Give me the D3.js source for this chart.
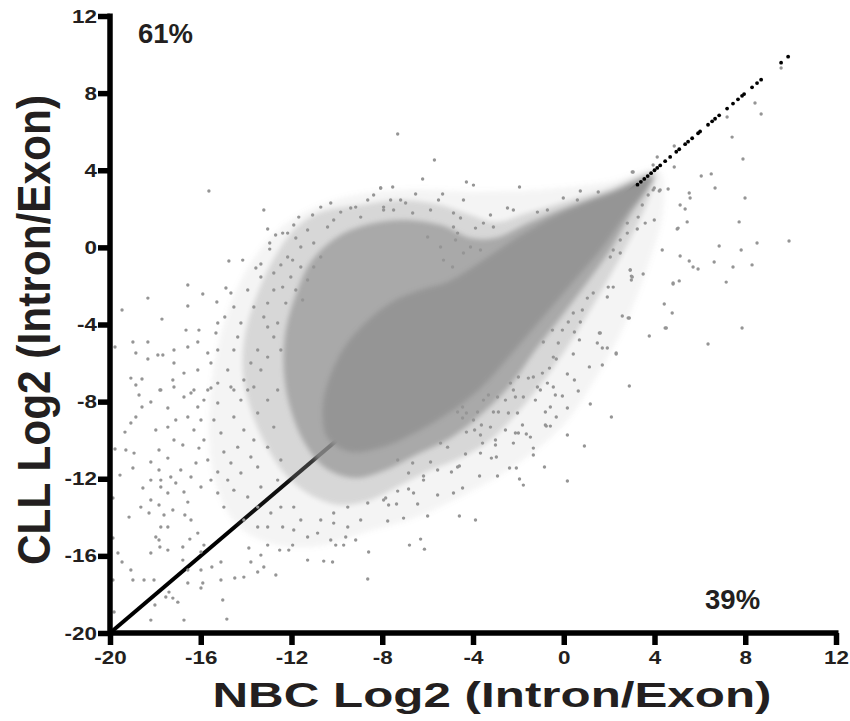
<!DOCTYPE html>
<html>
<head>
<meta charset="utf-8">
<script src="https://cdn.jsdelivr.net/npm/d3@7"></script>
<style>
  body { margin: 0; background: #fff; }
  svg { display: block; }
</style>
</head>
<body>
<div id="chart"></div>
<script>
// axis ticks
const xTicks = [-20, -16, -12, -8, -4, 0, 4, 8, 12];
const yTicks = [-20, -16, -12, -8, -4, 0, 4, 8, 12];

// black points lying on y = x (dense run, then single dots)
const diagonalRange = [-20, 3.2];
const diagonalDots = [3.25, 3.4, 3.55, 3.7, 3.85, 4.0, 4.12, 4.25, 4.47, 4.69, 4.96, 5.09, 5.35, 5.48, 5.66,
  5.92, 6.01, 6.36, 6.54, 6.67, 6.85, 7.2, 7.46, 7.68, 7.86, 7.95, 8.3, 8.52, 8.7, 9.58, 9.89];

// density outlines of the grey cloud (halo = thin, outer = loose, inner = dense, core = solid)
const haloOutline = [[4.2,4.0],[2.0,3.4],[-1.0,3.0],[-4.0,2.9],[-7.0,3.0],[-10.0,2.5],[-12.3,1.2],[-13.9,-1.0],
  [-15.0,-4.0],[-15.6,-8.0],[-15.4,-12.0],[-14.4,-14.4],[-12.8,-15.4],[-10.8,-15.5],[-8.8,-14.8],[-6.5,-14.0],
  [-4.0,-12.6],[-2.0,-11.2],[0.0,-9.2],[1.4,-6.8],[2.7,-4.0],[3.7,-1.0],[4.4,2.0]];
const outerOutline = [[4.03,3.91],[2.05,3.08],[0.29,2.46],[-1.47,1.83],[-3.01,1.31],[-4.11,1.68],[-5.43,2.2],
  [-7.19,2.46],[-8.95,2.2],[-10.71,1.83],[-11.81,1.0],[-12.69,-0.4],[-13.44,-2.21],[-14.01,-4.29],[-14.15,-6.36],
  [-13.79,-8.44],[-13.13,-10.25],[-12.25,-11.81],[-11.15,-12.85],[-9.83,-13.36],[-8.51,-13.1],[-7.19,-12.33],
  [-5.87,-11.55],[-4.55,-10.93],[-3.23,-9.99],[-2.13,-8.7],[-1.03,-7.14],[0.07,-5.32],[1.17,-3.25],[2.14,-1.28],
  [3.02,0.64],[3.81,2.72]];
const innerOutline = [[3.9,3.7],[2.05,2.87],[0.29,2.14],[-1.47,1.31],[-3.01,0.49],[-4.11,0.49],[-5.43,1.16],
  [-7.19,1.42],[-8.73,1.16],[-10.05,0.49],[-11.15,-0.76],[-11.81,-2.47],[-12.25,-4.29],[-12.34,-6.36],
  [-12.03,-8.44],[-11.37,-10.25],[-10.49,-11.45],[-9.17,-11.96],[-7.85,-11.55],[-6.53,-10.77],[-4.99,-9.89],
  [-3.67,-8.7],[-2.35,-7.14],[-1.25,-5.32],[-0.15,-3.66],[0.95,-1.95],[2.05,-0.14],[2.93,1.68],[3.72,3.08]];
const coreOutline = [[3.9,3.6],[2.27,2.87],[0.73,2.2],[-0.72,1.42],[-2.22,0.38],[-3.67,-0.76],[-5.12,-1.8],
  [-6.31,-2.21],[-7.41,-2.73],[-8.51,-3.66],[-9.61,-5.07],[-10.36,-6.88],[-10.63,-8.44],[-10.4,-9.9],
  [-9.4,-10.6],[-7.85,-10.3],[-6.53,-9.6],[-5.21,-8.7],[-3.67,-7.3],[-2.35,-5.58],[-1.03,-3.77],[0.29,-1.95],
  [1.61,-0.14],[2.71,1.68],[3.59,2.97]];

// individually visible grey points (NBC, CLL)
const scatterPoints = [
  [9.58,9.3],[8.43,7.49],[8.7,6.92],[7.2,6.76],[7.42,5.72],[7.9,4.58],[4.87,5.26],[4.12,4.69],[4.87,4.17],[3.02,3.91],
  [6.06,3.7],[6.5,3.81],[6.67,3.08],[4.6,3.03],[4.21,2.92],[5.53,2.82],[5.57,2.56],[7.99,2.56],[3.94,4.27],
  [3.99,3.08],[5.13,2.2],[5.35,1.99],[5.44,1.32],[5.0,0.95],[3.99,1.42],[3.59,1.26],[3.24,0.95],[7.73,1.32],[8.52,0.23],
  [9.93,0.33],[6.85,0.07],[7.82,-0.14],[4.34,-0.14],[5.13,-0.45],[5.53,-0.71],[5.7,-1.02],[5.92,-1.12],[6.63,-0.76],
  [7.46,-1.02],[8.3,-0.91],[7.16,-1.8],[5.09,-1.74],[4.82,-1.9],[3.5,-1.38],[2.93,-1.17],[2.98,-1.49],[2.98,-1.69],
  [1.96,-2.06],[4.43,-2.94],[4.78,-3.4],[4.52,-4.18],[7.86,-4.18],[2.58,-3.56],[2.89,-3.66],[3.77,-4.6],[6.36,-5.01],
  [1.7,-5.22],[1.92,-5.22],[2.31,-5.48],[1.7,-6.1],
  [2.89,-7.19],[2.1,-8.8],[0.91,-10.3],[0.16,-12.12],[1.17,-8.12],[1.13,-6.2],[2.31,-5.53],[1.48,-4.96],[1.57,-4.44],
  [0.42,-5.53],[0.47,-4.39],[0.69,-4.8],[0.16,-6.57],[0.47,-6.88],[0.64,-7.45],[0.16,-8.33],[0.16,-9.73],[-0.33,-8.8],
  [-0.77,-9.27],[-0.59,-9.27],[-0.85,-11.39],[-1.34,-10.41],[-1.34,-10.77],[-1.78,-12.33],[-1.95,-12.01],[-2.09,-11.44],
  [-2.39,-11.44],[-2.92,-11.86],[-3.71,-11.86],[-3.89,-14.14],[-4.6,-13.93],[-6.0,-13.93],[-7.06,-14.04],[-7.76,-14.19],
  [-6.31,-15.13],[-6.8,-15.44],[-6.14,-15.65],[-6.44,-13.31],[-7.37,-13.31],[-5.56,-12.84],[-4.86,-12.74],[-4.46,-12.48],
  [-4.95,-11.65],[-4.68,-11.39],[-5.56,-11.55],[-6.18,-11.86],[-6.62,-12.74],[-6.84,-12.53],[-7.32,-12.64],[-3.19,-10.93],
  [-2.97,-10.87],[-3.01,-10.25],[-3.67,-10.67],[-4.33,-10.72],[-4.6,-11.34],[-2.22,-10.15],[-2.0,-9.63],[-1.65,-9.68],
  [-1.47,-9.84],[-2.57,-9.47],[-3.01,-9.99],[-3.58,-10.15],[-3.67,-9.73],[-3.93,-9.47],[-4.29,-9.58],[-4.46,-8.85],
  [-3.98,-8.95],[-3.63,-9.21],[-3.23,-9.32],[-2.88,-8.54],[-2.44,-8.59],[-3.1,-8.54],[-2.04,-8.59],[-1.82,-9.21],
  [-2.13,-9.63],[-0.81,-9.21],[-0.59,-8.28],[-0.81,-8.54],[-0.37,-7.66],[-0.06,-7.71],[-0.46,-7.24],[-1.03,-7.4],
  [-0.72,-7.04],[-1.25,-7.92],[-0.46,-5.69],[-0.33,-5.79],[-0.9,-4.91],[-0.24,-4.96],[-1.34,-6.72],[-1.56,-6.78],
  [-0.94,-6.52],[-0.63,-6.26],[-1.16,-7.24],[-2.35,-7.04],[-2.22,-7.4],[-2.0,-6.72],[-1.78,-7.76],[-2.13,-7.76],
  [-2.57,-7.92],[-2.92,-7.76],[-3.32,-7.66],[-3.54,-7.92],[-3.8,-8.54],[-4.29,-8.59],[-4.68,-8.54],[-4.46,-8.28],
  [-5.12,-10.36],[-5.43,-10.15],[-5.87,-11.13],[-6.18,-12.07],[-6.84,-11.7],[-6.66,-11.18],[-7.32,-11.03],[-7.72,-13.36],
  [-7.85,-13.0],
  [-19.87,-13.0],[-19.87,-15.07],[-19.87,-17.25],[-19.82,-18.91],[-19.78,-10.46],[-19.56,-11.81],[-19.34,-9.58],
  [-19.08,-9.11],[-18.86,-8.8],[-18.59,-8.28],[-18.72,-7.66],[-19.3,-10.51],[-18.94,-10.67],[-18.99,-11.44],
  [-19.16,-13.99],[-19.65,-15.85],[-19.47,-16.32],[-19.08,-16.73],[-18.99,-17.25],[-18.55,-12.48],[-18.64,-13.47],
  [-18.28,-13.78],[-18.5,-17.25],[-18.2,-15.85],[-18.06,-17.25],[-18.2,-19.33],[-17.84,-15.18],[-17.8,-15.54],
  [-18.02,-18.55],[-17.54,-18.13],[-17.4,-17.88],[-17.23,-18.19],[-17.01,-18.4],[-16.74,-19.33],[-16.57,-17.41],
  [-16.57,-16.73],[-16.79,-16.22],[-17.45,-15.7],[-17.98,-15.02],[-17.76,-14.5],[-17.45,-14.5],[-17.62,-13.88],
  [-17.23,-13.62],[-17.84,-13.36],[-18.2,-13.1],[-18.2,-12.07],[-17.76,-12.43],[-17.76,-12.07],[-17.45,-12.74],
  [-17.1,-12.22],[-16.74,-12.69],[-16.57,-13.21],[-16.7,-13.88],[-16.43,-14.14],[-16.13,-14.82],[-16.48,-15.13],
  [-16.79,-15.54],[-15.99,-15.8],[-15.86,-15.44],[-15.99,-16.73],[-15.91,-17.41],[-15.99,-17.67],[-15.51,-16.58],
  [-15.11,-16.32],[-15.11,-17.25],[-15.03,-18.29],[-14.85,-19.28],[-14.5,-17.15],[-14.1,-17.1],[-13.79,-16.32],
  [-13.49,-16.84],[-13.22,-16.58],[-12.69,-16.99],[-13.88,-15.59],[-13.35,-15.96],[-13.05,-15.44],[-12.52,-15.7],
  [-12.12,-15.7],[-11.95,-15.44],[-11.29,-16.22],[-10.58,-16.27],[-10.19,-16.32],[-9.7,-15.44],[-9.17,-15.18],
  [-8.6,-15.8],[-8.64,-17.2],[-10.05,-15.44],[-10.27,-15.18],[-9.61,-15.02],[-8.95,-14.14],[-9.52,-14.5],
  [-10.14,-14.3],[-10.85,-14.82],[-11.29,-15.02],
  [-17.76,-7.4],[-18.2,-8.02],[-17.18,-7.24],[-16.74,-7.76],[-17.45,-8.33],[-17.1,-8.95],[-16.57,-8.8],[-17.98,-9.47],
  [-17.45,-9.32],[-17.18,-9.99],[-16.79,-10.25],[-17.84,-10.51],[-18.2,-11.13],[-17.45,-10.93],[-17.84,-11.55],
  [-16.88,-11.55],[-17.32,-11.91],[-16.21,-11.18],[-16.43,-11.91],[-15.99,-12.43],[-15.55,-12.07],[-15.25,-11.65],
  [-15.69,-11.03],[-16.08,-10.41],[-15.86,-9.99],[-16.3,-9.47],[-15.99,-8.95],[-16.13,-8.28],[-15.86,-7.92],
  [-16.43,-7.55],[-15.55,-7.29],[-15.25,-8.07],[-15.42,-8.95],[-15.11,-9.63],[-14.98,-10.61],[-14.67,-11.18],
  [-14.81,-12.07],[-15.25,-12.74],[-14.98,-13.47],[-14.54,-12.59],[-14.23,-11.7],[-14.37,-10.36],[-14.1,-9.47],
  [-14.54,-8.8],[-14.23,-7.92],[-13.93,-7.4],[-14.67,-7.24],[-13.49,-8.59],[-13.66,-9.99],[-13.79,-10.87],
  [-13.49,-11.39],[-13.93,-12.95],[-14.1,-14.14],[-13.49,-14.5],[-13.05,-14.5],[-12.91,-13.78],[-13.49,-13.47],
  [-13.35,-12.43],[-13.05,-10.36],[-12.78,-9.32],[-13.05,-7.92],[-12.61,-7.4],[-12.47,-11.03],[-12.61,-12.07],
  [-12.47,-13.47],[-12.39,-14.5],[-11.9,-14.66],[-11.59,-14.14],[-11.9,-13.47],[-10.71,-14.14],[-10.14,-13.78],
  [-9.52,-13.47],[-8.64,-13.26],[-7.94,-13.1],
  [-7.32,5.88],[-5.7,4.53],[-6.22,3.55],[-4.29,3.39],[-3.98,3.23],[-1.95,3.13],[0.73,2.92],[1.52,2.87],[3.06,3.91],
  [-8.07,3.08],[-7.54,3.13],[-6.53,2.77],[-5.34,2.77],[-4.42,2.46],[-5.52,2.46],[-4.86,1.78],[-4.55,1.52],[-3.23,1.68],
  [-2.48,2.04],[-2.22,1.94],[-1.16,1.83],[-0.72,1.94],[-0.02,2.56],[0.6,2.46],[-3.89,1.0],[-3.54,1.26],[-3.1,1.06],
  [-4.68,0.74],[-4.11,0.02],[-3.67,-0.14],[-4.42,-0.29],[-4.77,0.38],[-4.86,1.06],[-6.0,0.54],[-5.43,0.02],
  [-5.87,1.94],[-6.97,2.3],[-6.66,1.78],[-7.5,1.94],[-7.19,2.46],[-7.94,2.09],[-5.3,-0.66],[-4.9,-1.02],
  [3.94,2.98],[4.25,2.98],[3.72,2.72],[3.46,2.2],[3.28,1.57],[2.8,1.26],[2.8,0.74],[5.04,1.0],[2.49,0.38],
  [2.18,-0.14],[2.05,-0.5],[2.49,-0.29],[2.93,-1.17],[3.02,-1.54],[4.82,-1.85],[4.47,-4.18],[2.84,-3.66],
  [1.92,-2.57],[1.3,-2.37],[1.04,-2.63],[0.82,-3.25],[1.61,-4.44],[0.2,-3.87],[-0.06,-4.29],[-0.5,-4.29],
  [0.73,-3.87],[0.42,-3.4],[2.18,-2.06],
  [-15.64,2.92],[-13.22,1.94],[-13.05,0.95],[-12.39,0.74],[-12.7,0.64],[-14.15,-0.66],[-14.76,-0.71],[-16.57,-1.95],
  [-18.33,-2.63],[-19.47,-3.25],[-17.71,-3.72],[-15.91,-2.42],[-16.57,-3.04],[-15.29,-2.83],[-14.89,-2.11],
  [-14.67,-2.37],[-13.57,-1.07],[-13.35,-0.86],[-12.96,0.23],[-12.96,-0.09],[-18.99,-4.91],[-18.33,-4.91],
  [-19.78,-5.17],[-18.86,-5.48],[-18.33,-5.79],[-17.89,-5.58],[-17.67,-5.58],[-17.18,-5.32],[-16.65,-4.29],
  [-16.08,-4.29],[-16.13,-4.91],[-16.57,-5.17],[-19.08,-6.78],[-18.59,-6.83],[-18.86,-7.14],[-17.8,-7.4],
  [-17.18,-6.0],[-17.23,-6.88],[-16.74,-6.52],[-16.13,-6.36],[-15.69,-5.48],[-15.25,-5.32],[-15.33,-4.44],
  [-15.25,-3.92],[-14.94,-3.61],[-14.54,-3.09],[-14.23,-3.92],[-14.37,-4.65],[-14.54,-5.32],[-13.66,-3.09],
  [-13.93,-2.21],[-13.35,-1.54],
  [-8.38,2.72],[-8.07,3.08],[-10.27,2.3],[-10.71,2.09],[-11.68,1.57],[-11.07,1.68],[-9.83,1.83],[-9.39,2.04],
  [-9.17,2.09],[-8.64,2.46],[-7.94,1.94],[-7.63,2.46],[-8.95,1.57],[-10.14,1.42],[-10.41,1.06],[-11.29,0.9],
  [-11.9,1.16],[-12.17,0.74],[-11.81,0.49],[-11.59,0.02],[-11.02,0.23],[-12.17,-0.5],[-11.95,-0.66],[-12.47,-0.91],
  [-12.78,-1.33],[-12.03,-1.54],[-12.39,-2.06],[-12.78,-2.21],[-13.05,-2.89],[-13.22,-3.61],[-12.25,-2.89],
  [-11.51,-2.73],[-11.81,-2.21],[-11.29,-1.69],[-11.59,-1.02],[-10.71,-0.5],[-11.02,-1.02],[-13.05,-4.13],
  [-12.61,-3.92],[-12.78,-4.65],[-13.49,-5.32],[-13.05,-5.69],[-12.47,-5.32],[-13.79,-6.0],[-13.35,-6.36],
  [-14.1,-6.88],[-14.54,-7.4],[-13.66,-7.24],[-15.25,-7.04],[-15.69,-7.4],[-16.3,-7.4],[-14.81,-6.36],[-15.55,-6.0]
];

// corner annotations
const pctLabels = ["61%", "39%"];
const xTitle = "NBC Log2 (Intron/Exon)";
const yTitle = "CLL Log2 (Intron/Exon)";

const W = 850, H = 721;
const grey = "#959595";
const ink = "#231f20";
const font = "'Liberation Sans', Arial, Helvetica, sans-serif";

const svg = d3.select("#chart").append("svg")
  .attr("width", W)
  .attr("height", H);

const x = d3.scaleLinear().domain([-20, 12]).range([110, 836]);
const y = d3.scaleLinear().domain([-20, 12]).range([633, 16]);

// soft edge for the density areas
svg.append("defs").append("filter")
  .attr("id", "soft")
  .attr("x", "-10%").attr("y", "-10%").attr("width", "120%").attr("height", "120%")
  .append("feGaussianBlur")
  .attr("stdDeviation", 2.5);

// glyphs in the source are stretched sideways, so widen the text
function stretch(sel, k) {
  sel.each(function () {
    const len = this.getComputedTextLength();
    d3.select(this).attr("textLength", len * k).attr("lengthAdjust", "spacingAndGlyphs");
  });
}

// dense diagonal run (under the cloud)
svg.append("line")
  .attr("x1", x(diagonalRange[0])).attr("y1", y(diagonalRange[0]))
  .attr("x2", x(diagonalRange[1])).attr("y2", y(diagonalRange[1]))
  .attr("stroke", "#000")
  .attr("stroke-width", 4);

// cloud
const blob = d3.line()
  .x(d => x(d[0]))
  .y(d => y(d[1]))
  .curve(d3.curveCatmullRomClosed);

const cloud = svg.append("g").attr("filter", "url(#soft)");
[[haloOutline, 0.1], [outerOutline, 0.3], [innerOutline, 0.7], [coreOutline, 1]].forEach(([shape, op]) => {
  cloud.append("path")
    .attr("d", blob(shape))
    .attr("fill", grey)
    .attr("fill-opacity", op);
});

svg.append("g").selectAll("circle")
  .data(scatterPoints)
  .enter().append("circle")
  .attr("cx", d => x(d[0]))
  .attr("cy", d => y(d[1]))
  .attr("r", 1.7)
  .attr("fill", grey);

svg.append("g").selectAll("circle")
  .data(diagonalDots)
  .enter().append("circle")
  .attr("cx", d => x(d))
  .attr("cy", d => y(d))
  .attr("r", 1.9)
  .attr("fill", "#000");

// axes
const fmt = d => String(d);
const x0 = x(-20), y0 = y(-20);

const xAxis = svg.append("g")
  .attr("transform", `translate(0,${y0})`)
  .call(d3.axisBottom(x).tickValues(xTicks).tickFormat(fmt).tickSize(12).tickSizeOuter(0).tickPadding(6));

const yAxis = svg.append("g")
  .attr("transform", `translate(${x0},0)`)
  .call(d3.axisLeft(y).tickValues(yTicks).tickFormat(fmt).tickSize(12).tickSizeOuter(0).tickPadding(1));

[xAxis, yAxis].forEach(g => {
  g.select(".domain").remove();
  g.selectAll(".tick line")
    .attr("stroke", "#000").attr("stroke-width", 5.5);
  g.selectAll(".tick text")
    .attr("fill", ink)
    .style("font-family", font)
    .style("font-weight", "700")
    .style("font-size", "19px")
    .call(stretch, 1.18);
});

// axis lines
svg.append("line")
  .attr("x1", x0).attr("x2", x(12) + 2.5)
  .attr("y1", y0).attr("y2", y0)
  .attr("stroke", "#000").attr("stroke-width", 5.5);
svg.append("line")
  .attr("x1", x0).attr("x2", x0)
  .attr("y1", y(12) - 2.5).attr("y2", y0 + 2.5)
  .attr("stroke", "#000").attr("stroke-width", 5.5);

// axis titles
svg.append("text")
  .attr("x", 492).attr("y", 707)
  .attr("text-anchor", "middle")
  .attr("fill", ink)
  .style("font-family", font).style("font-weight", "bold").style("font-size", "35px")
  .attr("textLength", 559).attr("lengthAdjust", "spacingAndGlyphs")
  .text(xTitle);

svg.append("text")
  .attr("transform", "translate(50,330) rotate(-90)")
  .attr("text-anchor", "middle")
  .attr("fill", ink)
  .style("font-family", font).style("font-weight", "bold").style("font-size", "46px")
  .attr("textLength", 470).attr("lengthAdjust", "spacingAndGlyphs")
  .text(yTitle);

// percentages
svg.append("text")
  .attr("x", x(-18.77)).attr("y", y(10.6))
  .attr("fill", ink)
  .style("font-family", font).style("font-weight", "bold").style("font-size", "28px")
  .attr("textLength", 55).attr("lengthAdjust", "spacingAndGlyphs")
  .text(pctLabels[0]);

svg.append("text")
  .attr("x", x(6.23)).attr("y", y(-18.76))
  .attr("fill", ink)
  .style("font-family", font).style("font-weight", "bold").style("font-size", "28px")
  .attr("textLength", 55).attr("lengthAdjust", "spacingAndGlyphs")
  .text(pctLabels[1]);
</script>
</body>
</html>
